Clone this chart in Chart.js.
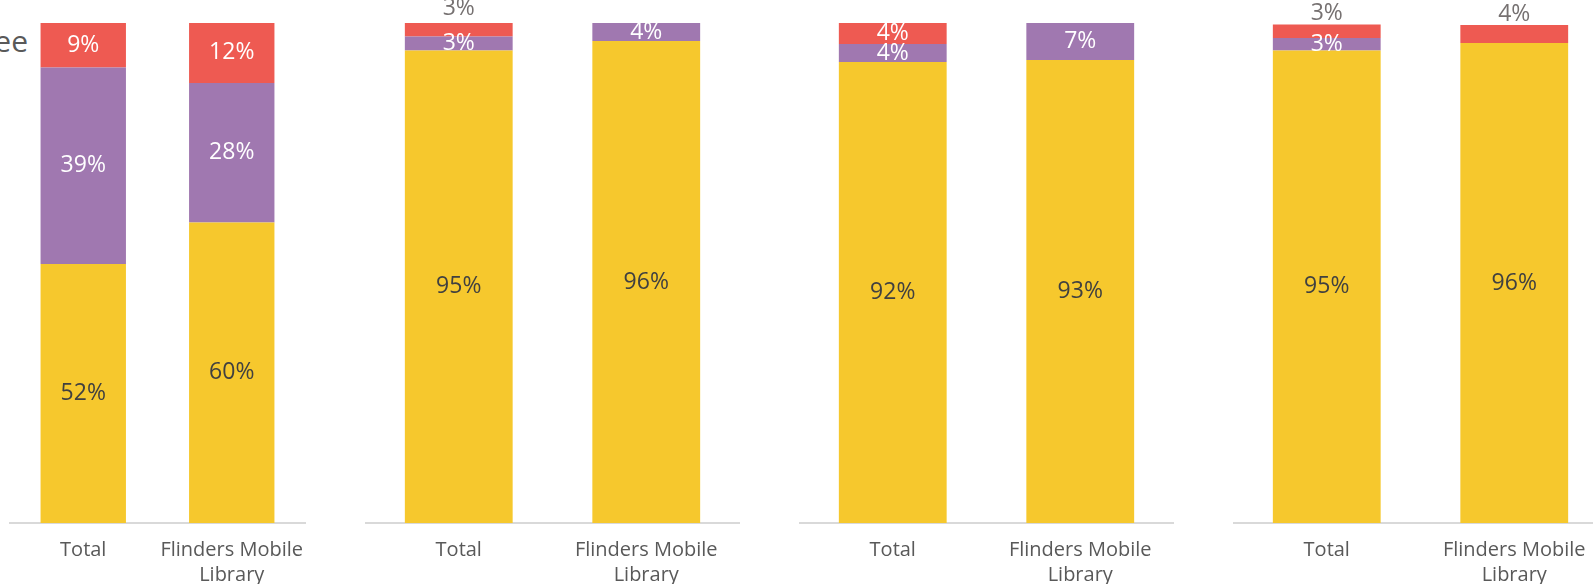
<!DOCTYPE html>
<html>
<head>
<meta charset="utf-8">
<script src="https://cdn.jsdelivr.net/npm/chart.js@4"></script>
<style>
    html, body { margin: 0; padding: 0; background: #fff; }
    body { width: 1593px; height: 584px; position: relative; overflow: hidden; font-family: "Open Sans", sans-serif; }
    .panel { position: absolute; top: 0; }
    .legend-cut { position: absolute; top: 20px; right: 1565px; font-size: 30px; color: #595959; white-space: nowrap; }
</style>
</head>
<body>
<div class="legend-cut">ee</div>
<div class="panel" style="left:9px"><canvas id="p1" width="297" height="584"></canvas></div>
<div class="panel" style="left:365px"><canvas id="p2" width="375" height="584"></canvas></div>
<div class="panel" style="left:799px"><canvas id="p3" width="375" height="584"></canvas></div>
<div class="panel" style="left:1233px"><canvas id="p4" width="375" height="584"></canvas></div>
<script>
// Categories (same in every panel)
const categories = ['Total', ['Flinders Mobile', 'Library']];

// One pair per panel: [Total, Flinders Mobile Library]
const yellowValues = [[51.8, 60.1], [94.5, 96.4], [92.2, 92.6], [94.5, 96.0]];
const purpleValues = [[39.3, 27.9], [2.8, 3.6], [3.6, 7.4], [2.5, 0]];
const redValues = [[8.9, 12.2], [2.7, 0], [4.2, 0], [2.7, 3.6]];

// Red labels that sit above the bar (offset in px, 0 = inside)
const redLabelOutside = [[0, 0], [15, 0], [0, 0], [11, 11]];

const colors = {
    yellow: '#F6C82D',
    purple: '#A078B0',
    red: '#EE5A52'
};

const segLabels = {
    id: 'segLabels',
    afterDatasetsDraw(chart, args, opts) {
        const ctx = chart.ctx;
        ctx.save();
        ctx.font = '23px "Open Sans"';
        ctx.textAlign = 'center';
        ctx.textBaseline = 'middle';
        chart.data.datasets.forEach((ds, di) => {
            chart.getDatasetMeta(di).data.forEach((bar, i) => {
                const v = ds.data[i];
                if (!v) return;
                let y = (bar.y + bar.base) / 2;
                let color = ds.labelColor;
                const off = di === 2 ? opts.outside[i] : 0;
                if (off) {
                    y = bar.y - off;
                    color = '#767171';
                }
                ctx.fillStyle = color;
                ctx.fillText(Math.round(v) + '%', bar.x, y);
            });
        });
        ctx.restore();
    }
};

function makePanel(id, idx) {
    new Chart(document.getElementById(id), {
        type: 'bar',
        data: {
            labels: categories,
            datasets: [
                { label: 'Yellow', data: yellowValues[idx], backgroundColor: colors.yellow, labelColor: '#404040' },
                { label: 'Purple', data: purpleValues[idx], backgroundColor: colors.purple, labelColor: '#ffffff' },
                { label: 'Red', data: redValues[idx], backgroundColor: colors.red, labelColor: '#ffffff' }
            ]
        },
        options: {
            responsive: false,
            animation: false,
            devicePixelRatio: 1,
            categoryPercentage: 1,
            barPercentage: 0.575,
            layout: { padding: { top: 23, left: 0, right: 0, bottom: 0 } },
            plugins: {
                legend: { display: false },
                tooltip: { enabled: false },
                segLabels: { outside: redLabelOutside[idx] }
            },
            scales: {
                x: {
                    stacked: true,
                    grid: { display: false, drawTicks: false },
                    border: { display: true, color: '#D9D9D9', width: 2 },
                    ticks: {
                        color: '#595959',
                        padding: 15,
                        maxRotation: 0,
                        font: { family: 'Open Sans', size: 20, lineHeight: 1.25 }
                    },
                    afterFit: (scale) => {
                        scale.height = 61;
                        scale.paddingLeft = 0;
                        scale.paddingRight = 0;
                    }
                },
                y: {
                    stacked: true,
                    display: false,
                    min: 0,
                    max: 100
                }
            }
        },
        plugins: [segLabels]
    });
}

makePanel('p1', 0);
makePanel('p2', 1);
makePanel('p3', 2);
makePanel('p4', 3);
</script>
</body>
</html>
